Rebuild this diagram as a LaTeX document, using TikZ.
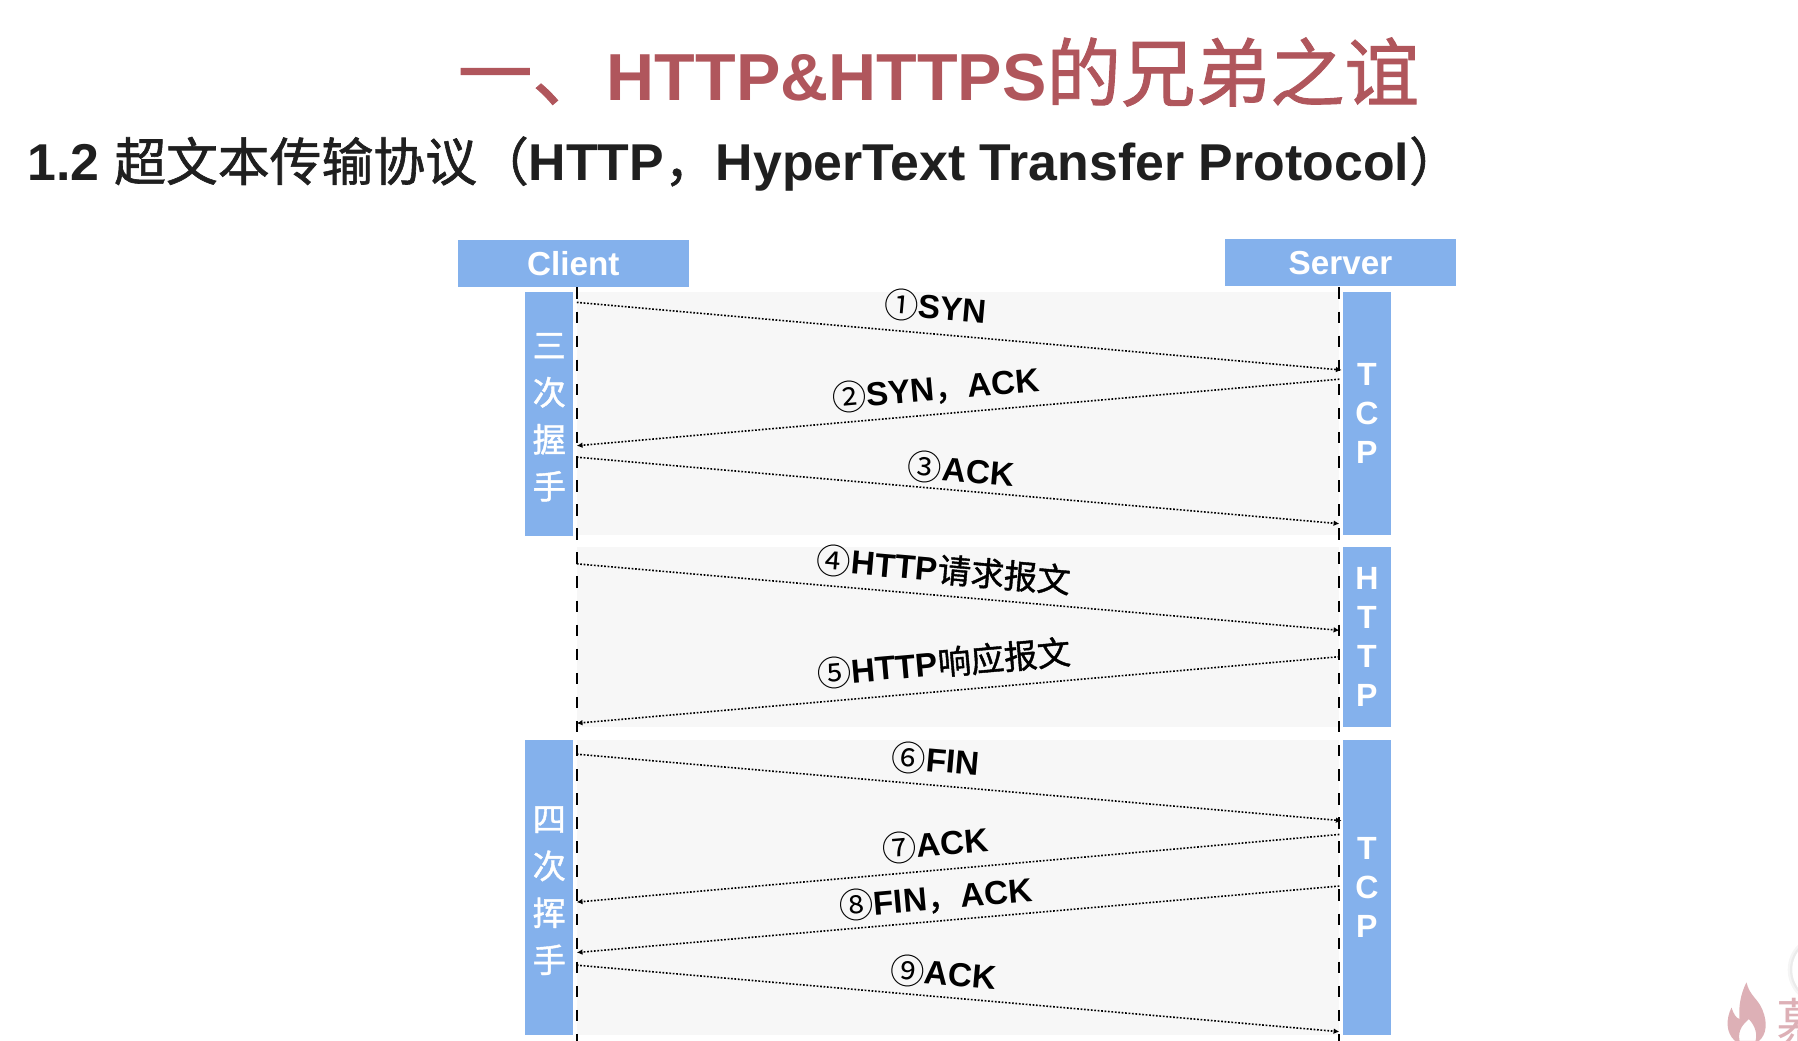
\documentclass[tikz,border=0pt]{standalone}
\usepackage{fontspec}
\usetikzlibrary{arrows.meta}
\setmainfont{Liberation Sans}
\newfontfamily\cjk[BoldFont=Noto Sans CJK SC, BoldFeatures={FakeBold=1.2}]{Noto Sans CJK SC}
\definecolor{boxblue}{HTML}{84B1EC}
\definecolor{panelgray}{HTML}{F7F7F7}
\definecolor{titlered}{HTML}{B0565C}
\definecolor{markpink}{HTML}{DDB0B6}
\newcommand{\ringnum}[1]{\raisebox{-1.5pt}{\fontsize{30}{30}\selectfont\cjk\mdseries #1}}
\tikzset{
	headbox/.style={fill=boxblue, text=white, minimum width=202pt, minimum height=41pt, inner sep=0pt, font=\fontsize{29}{29}\selectfont\bfseries},
	bandbox/.style={fill=boxblue, text=white, minimum width=42pt, inner sep=0pt, align=center},
	zhband/.style={bandbox, font=\fontsize{29}{41}\selectfont\cjk\bfseries},
	enband/.style={bandbox, font=\fontsize{28}{34}\selectfont\bfseries},
	lifeline/.style={line width=1.5pt, dash pattern=on 10pt off 11pt},
	msg/.style={line width=1.4pt, dash pattern=on 1.5pt off 1.5pt, -{Latex[length=5pt,width=5pt]}},
	msglabel/.style={inner sep=0pt, yshift=0.3pt, font=\fontsize{29}{29}\selectfont\bfseries},
}
\begin{document}
\begin{tikzpicture}[x=1pt, y=-1pt]
	\useasboundingbox (0, -0.7) rectangle (1568, 906.3);
	
	%%%%% HEADINGS %%%%%
	\node[anchor=base west, inner sep=0pt, text=titlered, font=\fontsize{58}{58}\selectfont\bfseries] (title) at (399, 87) {{\fontsize{65}{65}\selectfont\cjk 一、}HTTP\&HTTPS{\fontsize{65}{65}\selectfont\cjk 的兄弟之谊}};
	\node[anchor=base west, inner sep=0pt, text=black!88, font=\fontsize{45.2}{45}\selectfont\bfseries] (subtitle) at (24, 157) {1.2 {\cjk 超文本传输协议（}HTTP{\cjk ，}HyperText Transfer Protocol{\cjk ）}};
	
	%%%%% PANELS %%%%%
	\fill[panelgray] (503, 254) rectangle (1168, 466);
	\fill[panelgray] (503, 476) rectangle (1168, 633);
	\fill[panelgray] (503, 645) rectangle (1168, 902);
	
	%%%%% BOXES %%%%%
	\node[headbox] (client) at (500, 229.5) {Client};
	\node[headbox] (server) at (1169, 228.5) {Server};
	
	\node[zhband, minimum height=213pt] (threeway) at (479, 360.5) {\rule{0pt}{27pt}三\\次\\握\\手};
	\node[enband, minimum height=212pt] (tcpopen) at (1192, 360) {T\\C\\P};
	\node[enband, minimum height=157pt] (http) at (1192, 554.5) {H\\T\\T\\P};
	\node[zhband, minimum height=257pt] (fourway) at (479, 773.5) {\rule{0pt}{27pt}四\\次\\挥\\手};
	\node[enband, minimum height=257pt] (tcpclose) at (1192, 773.5) {T\\C\\P};
	
	%%%%% LIFELINES %%%%%
	\coordinate (ctop) at (503, 250);
	\coordinate (cbot) at (503, 907);
	\coordinate (stop) at (1168, 250);
	\coordinate (sbot) at (1168, 907);
	\draw[lifeline] (ctop) -- (cbot);
	\draw[lifeline] (stop) -- (sbot);
	
	%%%%% MESSAGES %%%%%
	\coordinate (c1) at (503, 263);
	\coordinate (s1) at (1170, 322);
	\coordinate (s2) at (1168, 330);
	\coordinate (c2) at (503, 388);
	\coordinate (c3) at (503, 398);
	\coordinate (s3) at (1168, 456);
	\coordinate (c4) at (503, 491);
	\coordinate (s4) at (1168, 549);
	\coordinate (s5) at (1168, 572);
	\coordinate (c5) at (503, 630);
	\coordinate (c6) at (503, 657);
	\coordinate (s6) at (1170, 715);
	\coordinate (s7) at (1168, 727);
	\coordinate (c7) at (503, 786);
	\coordinate (s8) at (1168, 772);
	\coordinate (c8) at (503, 830);
	\coordinate (c9) at (503, 841);
	\coordinate (s9) at (1168, 899);
	
	\draw[msg] (c1) -- (s1);
	\draw[msg] (s2) -- (c2);
	\draw[msg] (c3) -- (s3);
	\draw[msg] (c4) -- (s4);
	\draw[msg] (s5) -- (c5);
	\draw[msg] (c6) -- (s6);
	\draw[msg] (s7) -- (c7);
	\draw[msg] (s8) -- (c8);
	\draw[msg] (c9) -- (s9);
	
	\node[msglabel, rotate=-5] (syn) at (816, 268) {\ringnum{①}SYN};
	\node[msglabel, rotate=5] (synack) at (816, 339) {\ringnum{②}SYN{\cjk ，}ACK};
	\node[msglabel, rotate=-5] (ack) at (838, 410) {\ringnum{③}ACK};
	\node[msglabel, rotate=-5] (request) at (823, 497) {\ringnum{④}HTTP{\cjk 请求报文}};
	\node[msglabel, rotate=5] (response) at (823, 578) {\ringnum{⑤}HTTP{\cjk 响应报文}};
	\node[msglabel, rotate=-5] (fin) at (816, 663) {\ringnum{⑥}FIN};
	\node[msglabel, rotate=5] (ackb) at (816, 736) {\ringnum{⑦}ACK};
	\node[msglabel, rotate=5] (finack) at (816, 783) {\ringnum{⑧}FIN{\cjk ，}ACK};
	\node[msglabel, rotate=-5] (ackc) at (823, 849) {\ringnum{⑨}ACK};
	
	%%%%% CORNER %%%%%
	\fill[black!4] (1590, 845) circle (31);
	\fill[black!8] (1590, 845) circle (29);
	\fill[white] (1590, 845) circle (27);
	
	\fill[markpink, even odd rule] (1523, 856) .. controls (1526, 868) and (1533, 870) .. (1537, 880) .. controls (1542, 892) and (1540, 902) .. (1534, 907) -- (1513, 907) .. controls (1505, 900) and (1505, 888) .. (1510, 878) .. controls (1512, 884) and (1514, 887) .. (1517, 888) .. controls (1516, 877) and (1518, 866) .. (1523, 856) -- cycle
		(1517, 907) .. controls (1515, 897) and (1521, 892) .. (1525, 888) .. controls (1529, 892) and (1533, 899) .. (1531, 907) -- cycle;
	\node[anchor=west, inner sep=0pt, text=markpink, font=\fontsize{46}{46}\selectfont\cjk] (brand) at (1549, 891) {慕};
\end{tikzpicture}
\end{document}
